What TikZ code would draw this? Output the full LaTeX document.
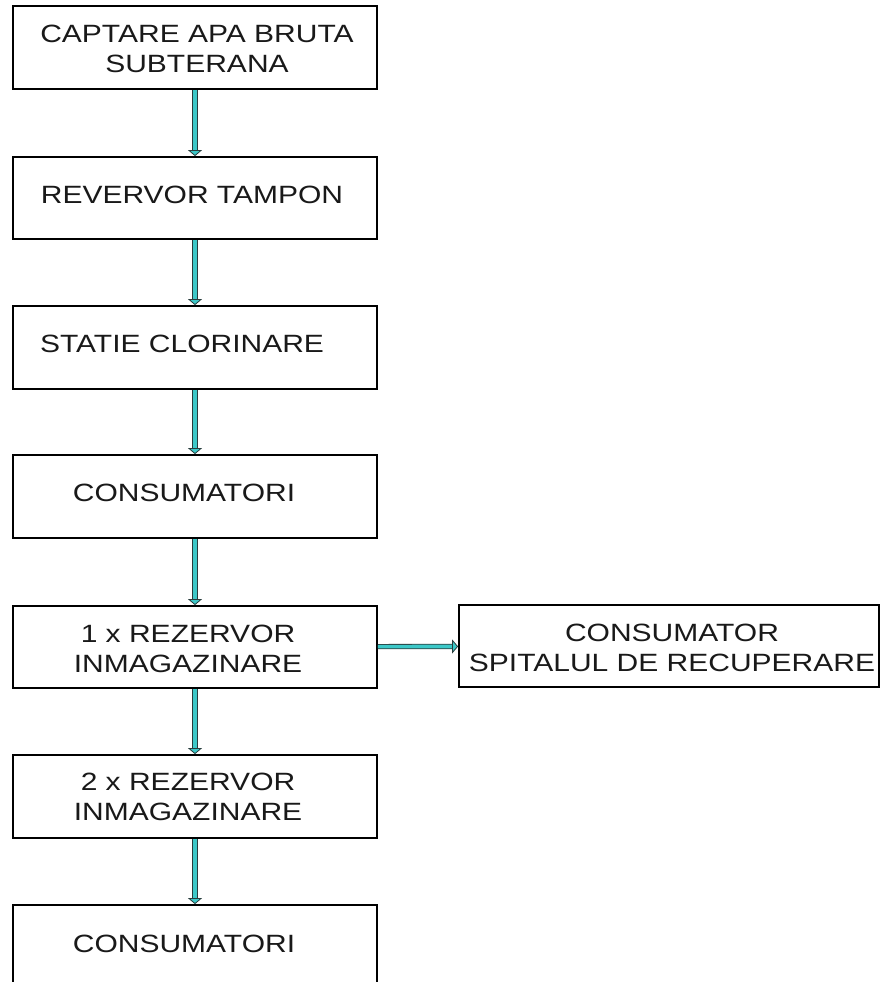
\documentclass[tikz,border=0pt]{standalone}
\usepackage{fontspec}
\setmainfont{Liberation Sans}[FakeStretch=1.2]
\usetikzlibrary{arrows.meta}
\definecolor{flowteal}{RGB}{60,200,200}
\definecolor{flowedge}{RGB}{40,60,60}
\begin{document}
\begin{tikzpicture}[x=1pt,y=-1pt,
  box/.style={draw=black, line width=1.8pt, minimum width=364pt, inner sep=0pt},
  txt/.style={font=\fontsize{25pt}{30pt}\selectfont, align=center, inner sep=0pt, text=black!90},
  flow/.style={draw=flowedge, line width=0.8pt, double=flowteal, double distance=3.6pt,
    -{Triangle[length=6pt,width=14pt,fill=flowteal]}}]
\useasboundingbox (0,0) rectangle (881,982);
\clip (0,0) rectangle (881,982);
\node[box, minimum height=83pt, label={[txt,xshift=2pt,yshift=-1.5pt]center:{CAPTARE APA BRUTA\\SUBTERANA}}] (b1) at (195,47.5) {};
\node[box, minimum height=82pt, label={[txt,xshift=-3pt,yshift=3pt]center:{REVERVOR TAMPON}}] (b2) at (195,198) {};
\node[box, minimum height=83pt, label={[txt,xshift=-13pt,yshift=3.5pt]center:{STATIE CLORINARE}}] (b3) at (195,347.5) {};
\node[box, minimum height=83pt, label={[txt,xshift=-11pt,yshift=3.5pt]center:{CONSUMATORI}}] (b4) at (195,496.5) {};
\node[box, minimum height=82pt, label={[txt,xshift=-7pt,yshift=-1.5pt]center:{1 x REZERVOR\\INMAGAZINARE}}] (b5) at (195,647) {};
\node[box, minimum height=83pt, label={[txt,xshift=-7pt]center:{2 x REZERVOR\\INMAGAZINARE}}] (b6) at (195,796.5) {};
\node[box, minimum height=83pt, label={[txt,xshift=-11pt,yshift=3pt]center:{CONSUMATORI}}] (b7) at (195,946.5) {};
\node[box, minimum width=420pt, minimum height=82pt, label={[txt,xshift=3pt,yshift=-2pt]center:{CONSUMATOR\\SPITALUL DE RECUPERARE}}] (r) at (669,646) {};
\draw[flow] (b1) -- (b2);
\draw[flow] (b2) -- (b3);
\draw[flow] (b3) -- (b4);
\draw[flow] (b4) -- (b5);
\draw[flow] (b5) -- (b6);
\draw[flow] (b6) -- (b7);
\draw[flow] (b5) -- (r);
\end{tikzpicture}
\end{document}
